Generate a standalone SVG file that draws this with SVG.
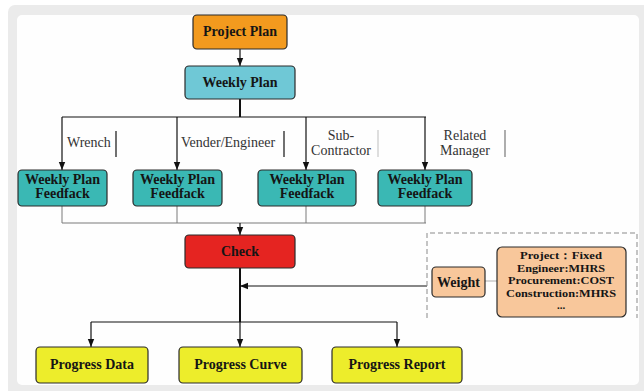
<svg xmlns="http://www.w3.org/2000/svg" width="644" height="391" viewBox="0 0 644 391">
  <defs>
    <marker id="arrow" markerUnits="userSpaceOnUse" markerWidth="8" markerHeight="8" viewBox="0 0 8 8" refX="8" refY="4" orient="auto">
      <path d="M0,0.8 L8,4 L0,7.2 Z" fill="#111"/>
    </marker>
    <style>
      .node { stroke: #2a2a2a; stroke-width: 1.2; }
      .lbl { font-family: "Liberation Serif", "Times New Roman", serif; font-weight: bold; font-size: 14px; fill: #151515; text-anchor: middle; }
      .small { font-family: "Liberation Serif", "Times New Roman", serif; font-weight: bold; font-size: 11px; fill: #151515; text-anchor: middle; }
      .tag { font-family: "Liberation Serif", "Times New Roman", serif; font-size: 14px; fill: #333; }
      .orange { fill: #f39a1e; }
      .cyan { fill: #6fc8d6; }
      .teal { fill: #3ab8b4; }
      .red { fill: #e52421; }
      .peach { fill: #f8c79b; }
      .yellow { fill: #eded2b; }
      .wire { fill: none; stroke: #111; stroke-width: 1.2; }
      .thick { fill: none; stroke: #111; stroke-width: 2; }
      .soft { fill: none; stroke: #7a7a7a; stroke-width: 1; }
    </style>
  </defs>

  <!-- frame -->
  <rect x="0" y="0" width="644" height="391" fill="#ffffff"/>
  <rect x="8" y="5" width="645" height="395" rx="7" fill="#ebebeb"/>
  <rect x="17" y="15" width="622" height="370" rx="5" fill="#fefefe"/>

  <!-- connectors -->
  <g id="connectors">
    <path class="wire" d="M240,49 V66" marker-end="url(#arrow)"/>
    <path class="thick" d="M240,99 V117"/>
    <path class="wire" d="M62,117 H426"/>
    <path class="wire" d="M62,117 V170" marker-end="url(#arrow)"/>
    <path class="wire" d="M177,117 V170" marker-end="url(#arrow)"/>
    <path class="wire" d="M306,117 V170" marker-end="url(#arrow)"/>
    <path class="wire" d="M425,117 V170" marker-end="url(#arrow)"/>
    <path class="soft" d="M62,206 V223 H426 M177,206 V223 M306,206 V223 M425,206 V223"/>
    <path class="wire" d="M240,223 V235" marker-end="url(#arrow)"/>
    <path class="thick" d="M240,268 V322"/>
    <path class="wire" d="M427,286 H240" marker-end="url(#arrow)"/>
    <path class="wire" d="M91,322 H397"/>
    <path class="wire" d="M91,322 V347" marker-end="url(#arrow)"/>
    <path class="wire" d="M240,322 V347" marker-end="url(#arrow)"/>
    <path class="wire" d="M397,322 V347" marker-end="url(#arrow)"/>
    <path d="M485,281 H497" stroke="#b0b0b0" stroke-width="1" fill="none"/>
    <!-- dashed weight region -->
    <path d="M427,318 V233 H637 V318" fill="none" stroke="#8a8a8a" stroke-width="1" stroke-dasharray="5,3"/>
  </g>

  <!-- branch labels -->
  <g id="branch-labels">
    <text class="tag" x="67" y="147">Wrench</text>
    <line x1="116" y1="131" x2="116" y2="157" stroke="#111" stroke-width="1.2"/>
    <text class="tag" x="181" y="147">Vender/Engineer</text>
    <line x1="284" y1="131" x2="284" y2="157" stroke="#111" stroke-width="1.2"/>
    <text class="tag" text-anchor="middle" x="341" y="140">Sub-</text>
    <text class="tag" text-anchor="middle" x="341" y="155">Contractor</text>
    <line x1="378" y1="130" x2="378" y2="157" stroke="#c8c8c8" stroke-width="1.2"/>
    <text class="tag" text-anchor="middle" x="465" y="140">Related</text>
    <text class="tag" text-anchor="middle" x="465" y="155">Manager</text>
    <line x1="505" y1="130" x2="505" y2="157" stroke="#777" stroke-width="1.2"/>
  </g>

  <g id="project-plan">
    <rect class="node orange" x="193" y="15" width="94" height="34" rx="4"/>
    <text class="lbl" x="240" y="36">Project Plan</text>
  </g>

  <g id="weekly-plan">
    <rect class="node cyan" x="185" y="66" width="110" height="33" rx="4"/>
    <text class="lbl" x="240" y="87">Weekly Plan</text>
  </g>

  <g id="feedback-wrench">
    <rect class="node teal" x="18" y="170" width="89" height="36" rx="4"/>
    <text class="lbl" x="62.5" y="184">Weekly Plan</text>
    <text class="lbl" x="62.5" y="198">Feedfack</text>
  </g>

  <g id="feedback-vender">
    <rect class="node teal" x="133" y="170" width="89" height="36" rx="4"/>
    <text class="lbl" x="177.5" y="184">Weekly Plan</text>
    <text class="lbl" x="177.5" y="198">Feedfack</text>
  </g>

  <g id="feedback-subcontractor">
    <rect class="node teal" x="258" y="170" width="98" height="36" rx="4"/>
    <text class="lbl" x="307" y="184">Weekly Plan</text>
    <text class="lbl" x="307" y="198">Feedfack</text>
  </g>

  <g id="feedback-manager">
    <rect class="node teal" x="378" y="170" width="94" height="36" rx="4"/>
    <text class="lbl" x="425" y="184">Weekly Plan</text>
    <text class="lbl" x="425" y="198">Feedfack</text>
  </g>

  <g id="check">
    <rect class="node red" x="185" y="235" width="110" height="33" rx="4"/>
    <text class="lbl" x="240" y="256">Check</text>
  </g>

  <g id="weight">
    <rect class="node peach" x="432" y="267" width="53" height="30" rx="4"/>
    <text class="lbl" x="458.5" y="287">Weight</text>
  </g>

  <g id="weight-basis">
    <rect class="node peach" x="497" y="247" width="129" height="70" rx="5"/>
    <text class="small" x="561" y="259" textLength="82" lengthAdjust="spacingAndGlyphs">Project：Fixed</text>
    <text class="small" x="561" y="271.5" textLength="88" lengthAdjust="spacingAndGlyphs">Engineer:MHRS</text>
    <text class="small" x="561" y="284" textLength="106" lengthAdjust="spacingAndGlyphs">Procurement:COST</text>
    <text class="small" x="561" y="296.5" textLength="110" lengthAdjust="spacingAndGlyphs">Construction:MHRS</text>
    <text class="small" x="561" y="309">...</text>
  </g>

  <g id="progress-data">
    <rect class="node yellow" x="36" y="347" width="112" height="36" rx="4"/>
    <text class="lbl" x="92" y="369">Progress Data</text>
  </g>

  <g id="progress-curve">
    <rect class="node yellow" x="179" y="347" width="123" height="36" rx="4"/>
    <text class="lbl" x="240.5" y="369">Progress Curve</text>
  </g>

  <g id="progress-report">
    <rect class="node yellow" x="332" y="347" width="130" height="36" rx="4"/>
    <text class="lbl" x="397" y="369">Progress Report</text>
  </g>
</svg>
